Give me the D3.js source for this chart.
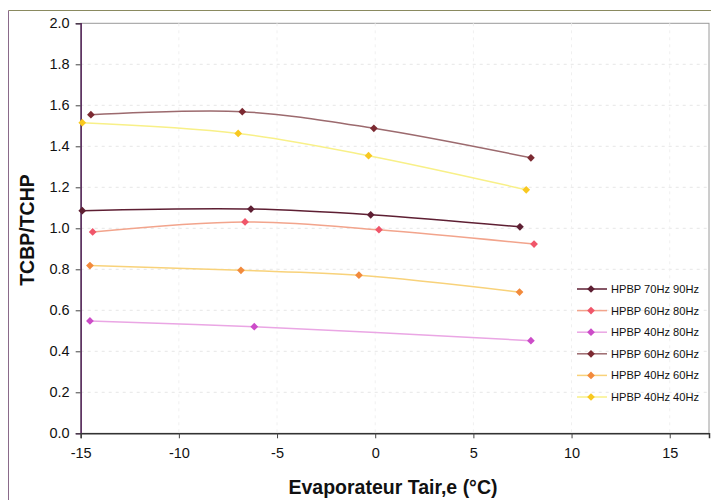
<!DOCTYPE html>
<html><head><meta charset="utf-8">
<script src="https://cdn.jsdelivr.net/npm/d3@7"></script>
<style>body{margin:0;background:#fff}svg{display:block}</style>
</head><body>
<svg id="chart" width="711" height="500"></svg>
<script>
const seriesNames = ["HPBP 70Hz 90Hz","HPBP 60Hz 80Hz","HPBP 40Hz 80Hz","HPBP 60Hz 60Hz","HPBP 40Hz 60Hz","HPBP 40Hz 40Hz"];
const xs7090 = [-14.92, -6.33, -0.23, 7.37];
const ys7090 = [1.086, 1.094, 1.066, 1.007];
const xs6080 = [-14.39, -6.63, 0.19, 8.09];
const ys6080 = [0.982, 1.031, 0.993, 0.923];
const xs4080 = [-14.53, -6.16, 7.93];
const ys4080 = [0.548, 0.520, 0.452];
const xs6060 = [-14.48, -6.77, -0.07, 7.93];
const ys6060 = [1.554, 1.569, 1.488, 1.344];
const xs4060 = [-14.53, -6.84, -0.83, 7.35];
const ys4060 = [0.818, 0.795, 0.771, 0.689];
const xs4040 = [-14.92, -6.98, -0.34, 7.69];
const ys4040 = [1.515, 1.463, 1.354, 1.188];
const xTicks = [-15,-10,-5,0,5,10,15];
const yTicks = [0,0.2,0.4,0.6,0.8,1.0,1.2,1.4,1.6,1.8,2.0];
const lineColors = ["#5e1f33","#f2a48c","#eaa6e4","#9c6a6e","#f8d27a","#f8f088"];
const markerColors = ["#5e1f33","#f0566a","#cc4cc8","#7c2a32","#f28a3c","#f8c820"];

const xsAll = [xs7090,xs6080,xs4080,xs6060,xs4060,xs4040];
const ysAll = [ys7090,ys6080,ys4080,ys6060,ys4060,ys4040];
const series = seriesNames.map((n,i)=>({name:n, pts: xsAll[i].map((x,j)=>({x, y: ysAll[i][j]})), lc: lineColors[i], mc: markerColors[i]}));

const svg = d3.select("#chart");
const pL = 80.7, pR = 709, pT = 23.3, pB = 433.3;
const x = d3.scaleLinear().domain([-15,17]).range([pL,pR]);
const y = d3.scaleLinear().domain([0,2]).range([pB,pT]);
const FONT = "Arial, 'Liberation Sans', sans-serif";

// outer frame
svg.append("line").attr("x1",8.5).attr("x2",711).attr("y1",10.5).attr("y2",10.5).attr("stroke","#8a8a60").attr("stroke-width",1.2);
svg.append("line").attr("x1",8.5).attr("x2",8.5).attr("y1",10.5).attr("y2",500).attr("stroke","#8a6a8a").attr("stroke-width",1);

// plot frame
svg.append("rect").attr("x",pL).attr("y",pT).attr("width",pR-pL).attr("height",pB-pT)
  .attr("fill","none").attr("stroke","#9a9a9a").attr("stroke-width",1);

// gridlines
svg.append("g").selectAll("line").data(yTicks.filter(d=>d>0&&d<2)).join("line")
  .attr("x1",pL).attr("x2",pR).attr("y1",d=>y(d)).attr("y2",d=>y(d))
  .attr("stroke","#e6e6e6").attr("stroke-dasharray","3,4").attr("stroke-width",1);
svg.append("g").selectAll("line").data(xTicks.filter(d=>d>-15)).join("line")
  .attr("x1",d=>x(d)).attr("x2",d=>x(d)).attr("y1",pT).attr("y2",pB)
  .attr("stroke","#f0f0f0").attr("stroke-dasharray","3,4").attr("stroke-width",1);

// axes
const yAxis = svg.append("g").attr("transform",`translate(${pL},0)`)
  .call(d3.axisLeft(y).tickValues(yTicks).tickFormat(d3.format(".1f")).tickSize(5).tickPadding(6));
const xAxis = svg.append("g").attr("transform",`translate(0,${pB})`)
  .call(d3.axisBottom(x).tickValues(xTicks).tickFormat(d3.format("d")).tickSize(5).tickPadding(9));
yAxis.select(".domain").attr("stroke","#5a2a5e").attr("stroke-width",1.5);
xAxis.select(".domain").attr("stroke","#333").attr("stroke-width",1.5);
[yAxis,xAxis].forEach(a=>{
  a.selectAll(".tick line").attr("stroke","#444");
  a.selectAll("text").attr("font-family",FONT).attr("font-size",14.5).attr("fill","#111");
});
xAxis.selectAll("text").text(function(d){return d<0? "-"+Math.abs(d): d;});

// lines
const line = d3.line().x(d=>x(d.x)).y(d=>y(d.y)).curve(d3.curveCatmullRom.alpha(0.5));
const sym = d3.symbol().type(d3.symbolSquare).size(30);
series.forEach(s=>{
  svg.append("path").datum(s.pts).attr("d",line).attr("fill","none").attr("stroke",s.lc).attr("stroke-width",1.5);
  svg.append("g").selectAll("path").data(s.pts).join("path")
    .attr("transform",d=>`translate(${x(d.x)},${y(d.y)}) rotate(45)`).attr("d",sym).attr("fill",s.mc);
});

// legend
const lg = svg.append("g");
series.forEach((s,i)=>{
  const yy = 289 + i*21.6;
  lg.append("line").attr("x1",577).attr("x2",607).attr("y1",yy).attr("y2",yy).attr("stroke",s.lc).attr("stroke-width",1.5);
  lg.append("path").attr("transform",`translate(591,${yy}) rotate(45)`).attr("d",sym).attr("fill",s.mc);
  lg.append("text").attr("x",611).attr("y",yy+4).text(s.name)
    .attr("font-family",FONT).attr("font-size",11.5).attr("fill","#111")
    .attr("textLength",88).attr("lengthAdjust","spacingAndGlyphs");
});

// axis titles
svg.append("text").attr("transform","translate(34,230) rotate(-90)").attr("text-anchor","middle")
  .attr("font-family",FONT).attr("font-weight","bold").attr("font-size",19.5).attr("fill","#111")
  .text("TCBP/TCHP");
svg.append("text").attr("x",393).attr("y",494).attr("text-anchor","middle")
  .attr("font-family",FONT).attr("font-weight","bold").attr("font-size",19.5).attr("fill","#111")
  .text("Evaporateur Tair,e (°C)");
</script>
</body></html>
